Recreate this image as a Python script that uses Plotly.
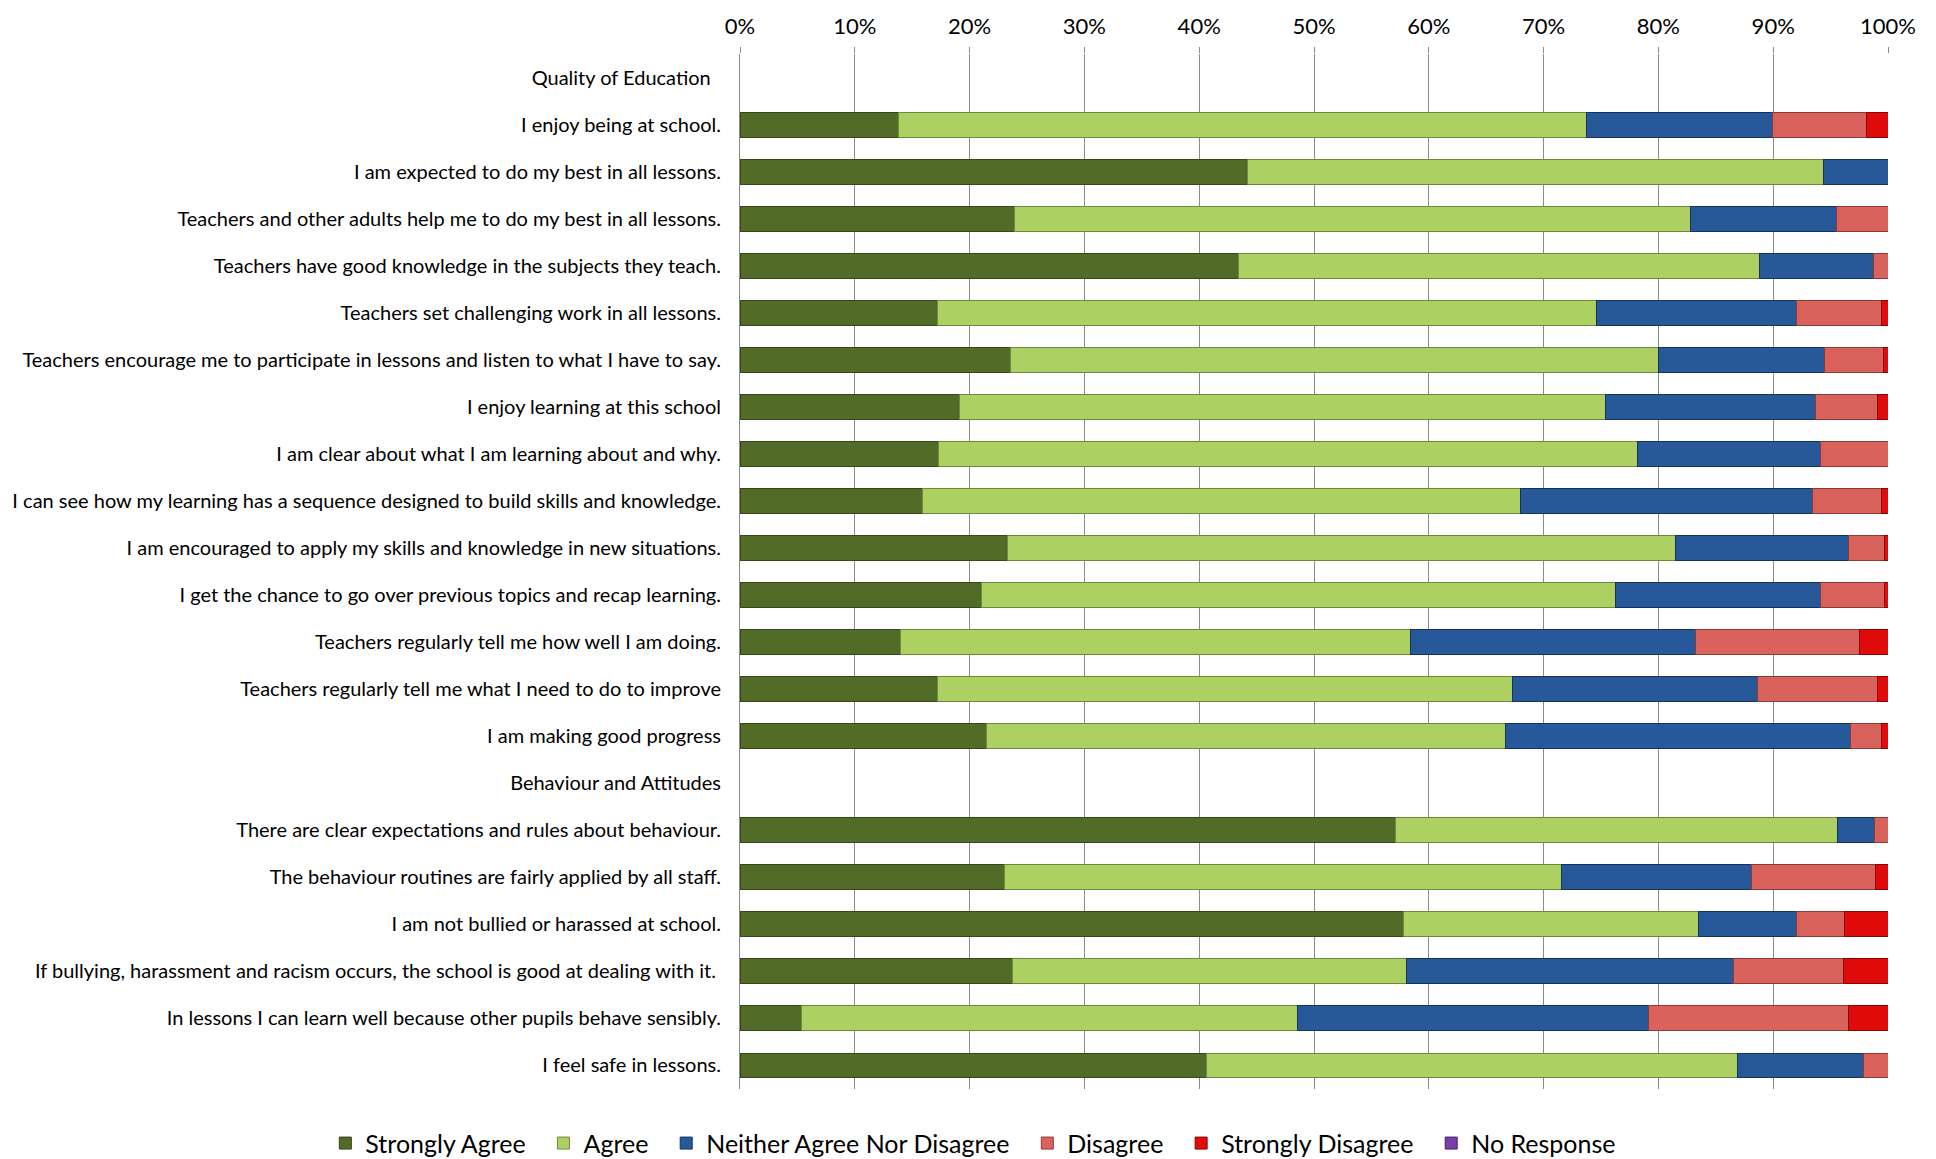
import plotly.graph_objects as go

categories = [
    "Quality of Education\u00a0\u00a0",
    "I enjoy being at school.",
    "I am expected to do my best in all lessons.",
    "Teachers and other adults help me to do my best in all lessons.",
    "Teachers have good knowledge in the subjects they teach.",
    "Teachers set challenging work in all lessons.",
    "Teachers encourage me to participate in lessons and listen to what I have to say.",
    "I enjoy learning at this school",
    "I am clear about what I am learning about and why.",
    "I can see how my learning has a sequence designed to build skills and knowledge.",
    "I am encouraged to apply my skills and knowledge in new situations.",
    "I get the chance to go over previous topics and recap learning.",
    "Teachers regularly tell me how well I am doing.",
    "Teachers regularly tell me what I need to do to improve",
    "I am making good progress",
    "Behaviour and Attitudes",
    "There are clear expectations and rules about behaviour.",
    "The behaviour routines are fairly applied by all staff.",
    "I am not bullied or harassed at school.",
    "If bullying, harassment and racism occurs, the school is good at dealing with it.\u00a0",
    "In lessons I can learn well because other pupils behave sensibly.",
    "I feel safe in lessons.",
]

strongly_agree = [None, 13.8, 44.2, 23.9, 43.4, 17.2, 23.6, 19.1, 17.3, 15.9, 23.3, 21.0, 14.0, 17.2, 21.5,
                  None, 57.1, 23.0, 57.8, 23.7, 5.4, 40.6]
agree = [None, 59.9, 50.2, 58.9, 45.4, 57.4, 56.4, 56.3, 60.9, 52.1, 58.2, 55.3, 44.4, 50.1, 45.2,
         None, 38.5, 48.6, 25.7, 34.4, 43.2, 46.3]
neither = [None, 16.2, 5.6, 12.7, 9.9, 17.4, 14.5, 18.3, 15.9, 25.4, 15.1, 17.8, 24.8, 21.3, 30.0,
           None, 3.2, 16.5, 8.5, 28.4, 30.5, 11.0]
disagree = [None, 8.2, 0.0, 4.5, 1.3, 7.4, 5.1, 5.4, 5.9, 6.0, 3.1, 5.6, 14.3, 10.5, 2.7,
            None, 1.2, 10.8, 4.2, 9.6, 17.5, 2.1]
strongly_disagree = [None, 1.9, 0.0, 0.0, 0.0, 0.6, 0.4, 0.9, 0.0, 0.6, 0.3, 0.3, 2.5, 0.9, 0.6,
                     None, 0.0, 1.1, 3.8, 3.9, 3.4, 0.0]
no_response = [None, 0, 0, 0, 0, 0, 0, 0, 0, 0, 0, 0, 0, 0, 0,
               None, 0, 0, 0, 0, 0, 0]

tick_vals = [0, 10, 20, 30, 40, 50, 60, 70, 80, 90, 100]
tick_text = [f"{v}%" for v in tick_vals]

PAD = "\u00a0\u00a0"
series = [
    ("Strongly Agree", strongly_agree, "#526C27", "#34461A"),
    ("Agree", agree, "#ADD062", "#6F8A3A"),
    ("Neither Agree Nor Disagree", neither, "#27599A", "#15335E"),
    ("Disagree", disagree, "#D9625D", "#8E3B38"),
    ("Strongly Disagree", strongly_disagree, "#E00C0C", "#8A0606"),
    ("No Response", no_response, "#7A3EA8", "#4A2368"),
]

fig = go.Figure()
for i, (name, vals, color, edge) in enumerate(series):
    label = name if i == len(series) - 1 else name + PAD
    fig.add_trace(go.Bar(
        y=categories, x=vals, name=label, orientation="h",
        marker=dict(color=color, line=dict(color=edge, width=1)),
        hovertemplate=name + ": %{x}%<extra></extra>",
    ))

FONT = "Lato, Open Sans, sans-serif"

fig.update_layout(
    barmode="stack",
    bargap=0.47,
    width=1936, height=1159,
    margin=dict(l=732, r=56, t=46, b=78, autoexpand=False),
    paper_bgcolor="white", plot_bgcolor="white",
    font=dict(family=FONT, size=20, color="#000000"),
    showlegend=True,
    legend=dict(
        orientation="h",
        x=-0.3612, xanchor="left", y=-0.0525, yanchor="middle",
        font=dict(family=FONT, size=25, color="#000000"),
        tracegroupgap=0, traceorder="normal",
    ),
    xaxis=dict(
        side="top", range=[0, 100], tickvals=tick_vals, ticktext=tick_text,
        showgrid=True, gridcolor="#8C8C8C", gridwidth=1,
        ticks="outside", ticklen=6, tickcolor="#8C8C8C",
        ticklabelstandoff=4,
        showline=False, zeroline=False,
        tickfont=dict(family=FONT, size=22, color="#000000"),
        fixedrange=True,
    ),
    yaxis=dict(
        autorange="reversed", type="category",
        showline=True, linecolor="#8C8C8C", linewidth=1,
        showgrid=False, ticks="", ticklabelstandoff=14,
        tickfont=dict(family=FONT, size=20, color="#000000"),
    ),
)

fig.write_html("out.html")
